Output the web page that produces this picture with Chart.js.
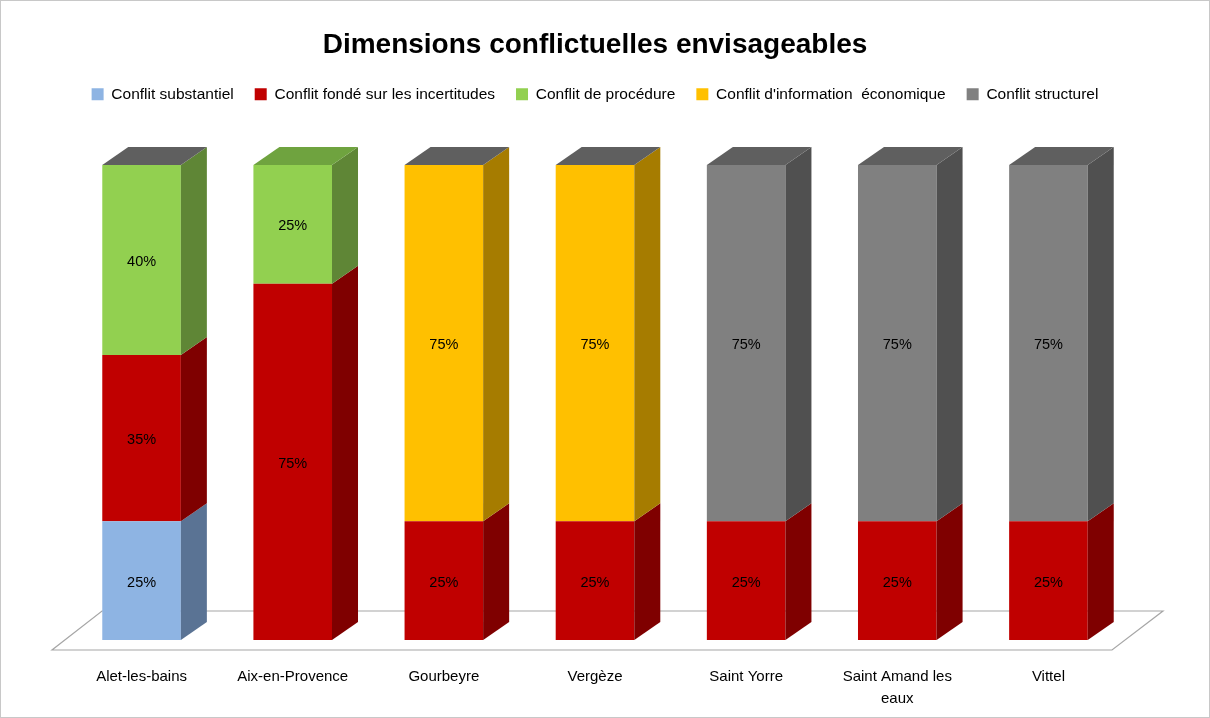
<!DOCTYPE html>
<html>
<head>
<meta charset="utf-8">
<script src="https://cdn.jsdelivr.net/npm/chart.js@4.4.0/dist/chart.umd.min.js"></script>
<style>
    body { margin: 0; background: #fff; }
    #wrap { width: 1210px; height: 718px; }
</style>
</head>
<body>
<div id="wrap"><canvas id="chart" width="1210" height="718"></canvas></div>
<script>
const categories = ['Alet-les-bains', 'Aix-en-Provence', 'Gourbeyre', 'Vergèze', 'Saint Yorre', ['Saint Amand les', 'eaux'], 'Vittel'];
const seriesNames = ['Conflit substantiel', 'Conflit fondé sur les incertitudes', 'Conflit de procédure', "Conflit d'information  économique", 'Conflit structurel'];
const substantiel = [25, null, null, null, null, null, null];
const incertitudes = [35, 75, 25, 25, 25, 25, 25];
const procedure = [40, 25, null, null, null, null, null];
const information = [null, null, 75, 75, null, null, null];
const structurel = [null, null, null, null, 75, 75, 75];

const frontColors = ['#8eb4e3', '#c00000', '#92d050', '#ffc000', '#808080'];
const sideColors = ['#5a7394', '#7f0000', '#5f8636', '#a67c00', '#505050'];
const topColors = ['#5f5f5f', '#6fa33f', '#5f5f5f', '#5f5f5f', '#5f5f5f', '#5f5f5f', '#5f5f5f'];
const DX = 26, DY = 18;
const font = '"Liberation Sans", Arial, sans-serif';

// extra room between legend and plot
const legendGap = {
    id: 'legendGap',
    beforeInit(chart) {
        const fit = chart.legend.fit;
        chart.legend.fit = function () {
            fit.call(this);
            this.height += 53;
        };
    }
};

const bar3d = {
    id: 'bar3d',
    beforeDraw(chart) {
        const ctx = chart.ctx;
        ctx.save();
        ctx.strokeStyle = '#c8c8c8';
        ctx.lineWidth = 1;
        ctx.strokeRect(0.5, 0.5, chart.width - 1, chart.height - 1);
        ctx.restore();
    },
    beforeDatasetsDraw(chart) {
        const a = chart.chartArea;
        const ctx = chart.ctx;
        ctx.save();
        ctx.beginPath();
        ctx.moveTo(a.left - 14, a.bottom + 10);
        ctx.lineTo(a.right - 12, a.bottom + 10);
        ctx.lineTo(a.right + 39, a.bottom - 29);
        ctx.lineTo(a.left + 36, a.bottom - 29);
        ctx.closePath();
        ctx.fillStyle = '#fff';
        ctx.fill();
        ctx.strokeStyle = '#a6a6a6';
        ctx.lineWidth = 1.2;
        ctx.stroke();
        ctx.restore();
    },
    afterDatasetsDraw(chart) {
        const ctx = chart.ctx;
        const tops = {};
        ctx.save();
        chart.data.datasets.forEach((ds, di) => {
            const meta = chart.getDatasetMeta(di);
            meta.data.forEach((bar, i) => {
                if (ds.data[i] == null) return;
                const p = bar.getProps(['x', 'y', 'base', 'width'], true);
                const right = p.x + p.width / 2;
                ctx.beginPath();
                ctx.moveTo(right, p.y);
                ctx.lineTo(right + DX, p.y - DY);
                ctx.lineTo(right + DX, p.base - DY);
                ctx.lineTo(right, p.base);
                ctx.closePath();
                ctx.fillStyle = sideColors[di];
                ctx.fill();
                if (!tops[i] || p.y < tops[i].y) tops[i] = p;
                ctx.fillStyle = '#000';
                ctx.font = '14.5px ' + font;
                ctx.textAlign = 'center';
                ctx.textBaseline = 'middle';
                ctx.fillText(ds.data[i] + '%', p.x, (p.y + p.base) / 2 + 2);
            });
        });
        Object.keys(tops).forEach(i => {
            const p = tops[i];
            const left = p.x - p.width / 2, right = p.x + p.width / 2;
            ctx.beginPath();
            ctx.moveTo(left, p.y);
            ctx.lineTo(left + DX, p.y - DY);
            ctx.lineTo(right + DX, p.y - DY);
            ctx.lineTo(right, p.y);
            ctx.closePath();
            ctx.fillStyle = topColors[i];
            ctx.fill();
        });
        ctx.restore();
    }
};

const seriesData = [substantiel, incertitudes, procedure, information, structurel];

new Chart(document.getElementById('chart'), {
    type: 'bar',
    data: {
        labels: categories,
        datasets: seriesData.map((d, i) => ({
            label: seriesNames[i],
            data: d,
            backgroundColor: frontColors[i],
            borderWidth: 0,
            categoryPercentage: 1,
            barPercentage: 0.52
        }))
    },
    options: {
        responsive: false,
        animation: false,
        events: [],
        layout: { padding: { left: 66, right: 86, top: 0, bottom: 12 } },
        plugins: {
            title: {
                display: true,
                text: 'Dimensions conflictuelles envisageables',
                color: '#000',
                font: { family: font, size: 28, weight: 'bold' },
                padding: { top: 28, bottom: 4 }
            },
            legend: {
                labels: {
                    color: '#000',
                    font: { family: font, size: 15.5 },
                    boxWidth: 12,
                    boxHeight: 12,
                    padding: 21
                }
            },
            tooltip: { enabled: false }
        },
        scales: {
            x: {
                stacked: true,
                grid: { display: false },
                border: { display: false },
                ticks: { color: '#000', font: { family: font, size: 15, lineHeight: 1.45 }, padding: 18, maxRotation: 0, autoSkip: false },
                afterFit(scale) { scale.height = 66; }
            },
            y: {
                stacked: true,
                display: false,
                min: 0,
                max: 100
            }
        }
    },
    plugins: [legendGap, bar3d]
});
</script>
</body>
</html>
